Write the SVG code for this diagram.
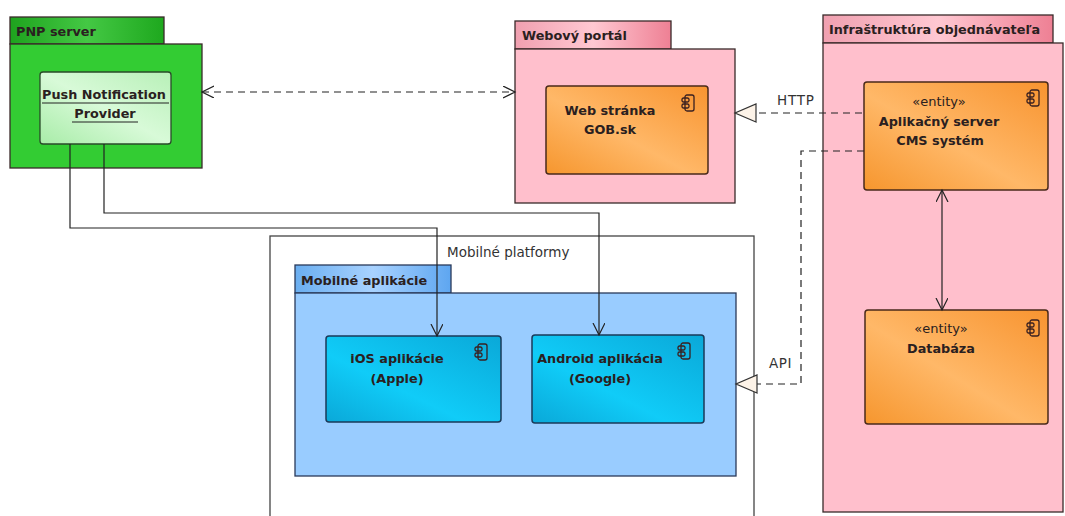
<svg xmlns="http://www.w3.org/2000/svg" width="1065" height="516" viewBox="0 0 1065 516">
<style>
.t{font-family:"DejaVu Sans","Liberation Sans",sans-serif;font-size:12.8px;font-weight:bold;fill:#2a2020}
.s{font-family:"DejaVu Sans","Liberation Sans",sans-serif;font-size:13px;fill:#2a2020}
.r{font-family:"DejaVu Sans","Liberation Sans",sans-serif;font-size:13.5px;fill:#333}
.pk{stroke:#3a2a2a;stroke-width:1.3}
.bx{stroke:#4a2a1a;stroke-width:1.5}
.ln{fill:none;stroke:#222;stroke-width:1.2}
.dl{fill:none;stroke:#222;stroke-width:1.2;stroke-dasharray:7,5}
.ic{fill:none;stroke:#3a2020;stroke-width:1.3}
</style>
<defs>
<linearGradient id="gTabG" x1="0" y1="0" x2="1" y2="0"><stop offset="0" stop-color="#1ea31e"/><stop offset="0.5" stop-color="#44c844"/><stop offset="1" stop-color="#1ea81e"/></linearGradient>
<linearGradient id="gPush" x1="0" y1="1" x2="1" y2="0"><stop offset="0" stop-color="#a8eca8"/><stop offset="0.5" stop-color="#d8fad8"/><stop offset="1" stop-color="#b8f0b8"/></linearGradient>
<linearGradient id="gTabP" x1="0" y1="0" x2="1" y2="0"><stop offset="0" stop-color="#f0a0b0"/><stop offset="0.5" stop-color="#ffc8d2"/><stop offset="1" stop-color="#ee8094"/></linearGradient>
<linearGradient id="gOr" x1="0" y1="1" x2="1" y2="0"><stop offset="0" stop-color="#f6962e"/><stop offset="0.45" stop-color="#ffb868"/><stop offset="1" stop-color="#f89430"/></linearGradient>
<linearGradient id="gTabB" x1="0" y1="0" x2="1" y2="0"><stop offset="0" stop-color="#6aaef0"/><stop offset="0.5" stop-color="#a8d2ff"/><stop offset="1" stop-color="#5ea6f0"/></linearGradient>
<linearGradient id="gCy" x1="0" y1="1" x2="1" y2="0"><stop offset="0" stop-color="#0aa8d8"/><stop offset="0.4" stop-color="#10ccf8"/><stop offset="1" stop-color="#0aa8d8"/></linearGradient>
<marker id="open" markerWidth="14" markerHeight="14" refX="12" refY="6" orient="auto-start-reverse" markerUnits="userSpaceOnUse"><path d="M0,0 L12,6 L0,12" fill="none" stroke="#222" stroke-width="1.2"/></marker>
<marker id="tri" markerWidth="26" markerHeight="26" refX="22" refY="10" orient="auto" markerUnits="userSpaceOnUse"><path d="M1,1 L22,10 L1,19 Z" fill="#fdf3e8" stroke="#333" stroke-width="1.2"/></marker>
<g id="comp"><rect x="0" y="2" width="9" height="16" rx="2" class="ic"/><rect x="-3" y="5" width="7" height="4" rx="1.5" class="ic"/><rect x="-3" y="11" width="7" height="4" rx="1.5" class="ic"/></g>
</defs>
<rect width="1065" height="516" fill="#fff"/>

<g id="mobilne-platformy">
<rect x="270" y="236" width="484" height="290" fill="#fff" stroke="#444" stroke-width="1.3"/>
<text x="447" y="257" class="r">Mobilné platformy</text>
</g>

<g id="pnp-server">
<rect x="10" y="17" width="154" height="27" fill="url(#gTabG)" class="pk"/>
<rect x="10" y="44" width="192" height="124" fill="#33cc33" class="pk"/>
<text x="16" y="36" class="t">PNP server</text>
</g>
<g id="push-provider">
<rect x="40" y="72" width="131" height="72" rx="3" fill="url(#gPush)" stroke="#2a4a2a" stroke-width="1.3"/>
<text x="104" y="99" class="t" text-anchor="middle">Push Notification</text>
<line x1="42" y1="103" x2="169" y2="103" stroke="#222" stroke-width="1"/>
<text x="105" y="118" class="t" text-anchor="middle">Provider</text>
<line x1="72" y1="122" x2="138" y2="122" stroke="#222" stroke-width="1"/>
</g>

<g id="webovy-portal">
<rect x="515" y="21" width="156" height="28" fill="url(#gTabP)" class="pk"/>
<rect x="515" y="49" width="220" height="154" fill="#ffbfcc" class="pk"/>
<text x="522" y="40" class="t">Webový portál</text>
</g>
<g id="web-stranka">
<rect x="546" y="86" width="162" height="88" rx="3" fill="url(#gOr)" class="bx"/>
<text x="610" y="115" class="t" text-anchor="middle">Web stránka</text>
<text x="610" y="134" class="t" text-anchor="middle">GOB.sk</text>
<use href="#comp" x="685" y="93"/>
</g>

<g id="infrastruktura">
<rect x="823" y="15" width="230" height="28" fill="url(#gTabP)" class="pk"/>
<rect x="823" y="43" width="240" height="469" fill="#ffbfcc" class="pk"/>
<text x="829" y="34" class="t">Infraštruktúra objednávateľa</text>
</g>
<g id="aplikacny-server">
<rect x="864" y="82" width="184" height="108" rx="3" fill="url(#gOr)" class="bx"/>
<text x="939" y="106" class="s" text-anchor="middle">«entity»</text>
<text x="939" y="126" class="t" text-anchor="middle">Aplikačný server</text>
<text x="940" y="145" class="t" text-anchor="middle">CMS systém</text>
<use href="#comp" x="1030" y="88"/>
</g>
<g id="databaza">
<rect x="865" y="310" width="183" height="114" rx="3" fill="url(#gOr)" class="bx"/>
<text x="941" y="333" class="s" text-anchor="middle">«entity»</text>
<text x="941" y="353" class="t" text-anchor="middle">Databáza</text>
<use href="#comp" x="1030" y="318"/>
</g>

<g id="mobilne-aplikacie">
<rect x="295" y="265" width="156" height="28" fill="url(#gTabB)" stroke="#2a3a5a" stroke-width="1.3"/>
<rect x="295" y="293" width="441" height="183" fill="#99ccff" stroke="#2a3a5a" stroke-width="1.3"/>
<text x="301" y="285" class="t">Mobilné aplikácie</text>
</g>
<g id="ios">
<rect x="326" y="336" width="175" height="86" rx="3" fill="url(#gCy)" stroke="#1a3a5a" stroke-width="1.5"/>
<text x="397" y="363" class="t" text-anchor="middle">iOS aplikácie</text>
<text x="397" y="383" class="t" text-anchor="middle">(Apple)</text>
<use href="#comp" x="478" y="342"/>
</g>
<g id="android">
<rect x="532" y="335" width="172" height="88" rx="3" fill="url(#gCy)" stroke="#1a3a5a" stroke-width="1.5"/>
<text x="600" y="363" class="t" text-anchor="middle">Android aplikácia</text>
<text x="600" y="383" class="t" text-anchor="middle">(Google)</text>
<use href="#comp" x="681" y="341"/>
</g>

<g id="connectors">
<line x1="202" y1="92" x2="515" y2="92" class="dl" marker-start="url(#open)" marker-end="url(#open)"/>
<path d="M862,113 L735,113" class="dl" marker-end="url(#tri)"/>
<text x="777" y="105" class="r" letter-spacing="0.8">HTTP</text>
<path d="M864,151 L801,151 L801,384 L736,384" class="dl" marker-end="url(#tri)"/>
<text x="769" y="368" class="r" letter-spacing="0.5">API</text>
<path d="M70,144 L70,228 L437,228 L437,336" class="ln" marker-end="url(#open)"/>
<path d="M104,144 L104,213 L599,213 L599,335" class="ln" marker-end="url(#open)"/>
<line x1="942" y1="190" x2="942" y2="310" class="ln" marker-start="url(#open)" marker-end="url(#open)"/>
</g>
</svg>
